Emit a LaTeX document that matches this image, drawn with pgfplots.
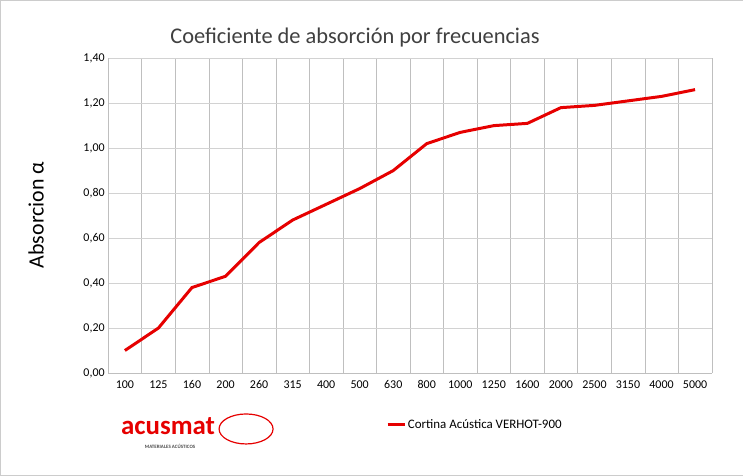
\documentclass[border=0pt]{standalone}
\usepackage{pgfplots}
\pgfplotsset{compat=1.18}
\usepackage{fontspec}
\setmainfont{Carlito}
\definecolor{lred}{RGB}{230,0,0}
\begin{document}
\begin{tikzpicture}[x=1bp,y=1bp]
\draw[gray!40,fill=white] (0,0) rectangle (743,475);
\node[font=\fontsize{22.5}{26}\selectfont,text=black!75] at (355,438) {Coeficiente de absorción por frecuencias};
\node[rotate=90,font=\fontsize{22}{26}\selectfont] at (36,260) {Absorcion α};
\begin{axis}[at={(108bp,102bp)},anchor=south west,scale only axis,width=604bp,height=315bp,
 xmin=-0.5,xmax=17.5,ymin=0,ymax=1.4,
 xtick={0,...,17},xticklabels={100,125,160,200,260,315,400,500,630,800,1000,1250,1600,2000,2500,3150,4000,5000},
 minor xtick={-0.5,0.5,...,17.5},xminorgrids,minor grid style={gray!50},
 ytick={0,0.2,...,1.4},ymajorgrids,major grid style={gray!35},
 yticklabel style={/pgf/number format/.cd,fixed,fixed zerofill,precision=2,use comma,assume math mode=true},
 ticklabel style={font=\fontsize{12}{14}\selectfont},
 xticklabel style={text height=8bp,yshift=-4bp},
 major tick length=0pt,minor tick length=0pt,axis line style={gray!50},
 axis x line*=bottom, axis y line*=left,
 legend style={at={(0.455,-0.165)},anchor=west,draw=none,font=\fontsize{13}{15}\selectfont,legend cell align=left},
 legend image post style={line width=3pt}]
\addplot[lred,line width=3pt] coordinates {(0,0.10)(1,0.20)(2,0.38)(3,0.43)(4,0.58)(5,0.68)(6,0.75)(7,0.82)(8,0.90)(9,1.02)(10,1.07)(11,1.10)(12,1.11)(13,1.18)(14,1.19)(15,1.21)(16,1.23)(17,1.26)};
\addlegendentry{Cortina Acústica VERHOT-900}
\end{axis}
\draw[lred,line width=1.2pt] (246,46) ellipse (27 and 15);
\node[text=lred,font=\fontsize{27}{30}\selectfont\bfseries] at (168,49) {acusmat};
\node[font=\fontsize{5}{6}\selectfont\bfseries,text=black!70] at (170,29) {MATERIALES ACÚSTICOS};
\end{tikzpicture}
\end{document}
